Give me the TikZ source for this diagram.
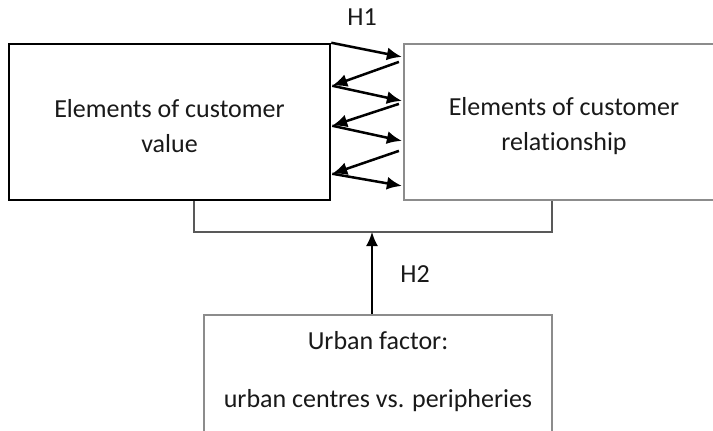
\documentclass[tikz,border=0pt]{standalone}
\usepackage{fontspec}
\setmainfont{Carlito}[Ligatures={NoCommon}]
\usetikzlibrary{arrows.meta,calc}
\begin{document}
\begin{tikzpicture}[x=1pt,y=-1pt,
  txt/.style={font=\fontsize{26}{35}\selectfont, align=center, text=black!90, inner sep=0pt},
  lbl/.style={font=\fontsize{26}{30}\selectfont, text=black!90, inner sep=0pt},
  blackbox/.style={draw=black, line width=2.5pt, rectangle, inner sep=0pt},
  graybox/.style={draw=black!45, line width=2.2pt, rectangle, inner sep=0pt},
  zz/.style={-{Latex[length=15pt,width=13pt]}, line width=2.5pt, black},
  upar/.style={-{Latex[length=14pt,width=12pt]}, line width=2pt, black},
  brk/.style={draw=black!65, line width=1.6pt}]
\useasboundingbox (0,0) rectangle (713,431);
\clip (0,0) rectangle (713,431);
\fill[white] (0,0) rectangle (713,431);
\node[blackbox, minimum width=321pt, minimum height=156pt] (lv) at (169.5,122) {};
\node[graybox, minimum width=320pt, minimum height=156pt] (rr) at (564,122) {};
\node[graybox, minimum width=348pt, minimum height=130pt] (uf) at (378,380) {};
\node[txt] (lvt) at ($(lv.center)+(0,4.5)$) {Elements of customer\\value};
\node[txt] (rrt) at ($(rr.center)+(0,4.5)$) {Elements of customer\\relationship};
\node[txt] (uft) at ($(uf.center)+(0,-8)$) {Urban factor:\\[23pt]urban centres vs. peripheries};
% zigzag
\draw[zz] (lv.north east) -- ($(rr.north west)+(-1,14)$);
\draw[zz] ($(rr.north west)+(-4,19)$) -- ($(lv.north east)+(1,43)$);
\draw[zz] ($(lv.north east)+(1,43)$) -- ($(rr.north west)+(-1,58)$);
\draw[zz] ($(rr.north west)+(-4,61)$) -- ($(lv.north east)+(1,83)$);
\draw[zz] ($(lv.north east)+(1,83)$) -- ($(rr.north west)+(-1,98)$);
\draw[zz] ($(rr.north west)+(-4,108)$) -- ($(lv.north east)+(1,131)$);
\draw[zz] ($(lv.north east)+(1,131)$) -- ($(rr.north west)+(-1,143)$);
% bracket
\coordinate (bL) at (194,232);
\coordinate (bR) at (552,232);
\coordinate (hb) at (372,232);
\draw[brk] (lv.south -| bL) -- (bL) -- (bR) -- (rr.south -| bR);
\draw[upar] (uf.north -| hb) -- (hb);
\node[lbl] (h1) at (362,16.8) {H1};
\node[lbl] (h2) at (415,274.5) {H2};
\end{tikzpicture}
\end{document}
